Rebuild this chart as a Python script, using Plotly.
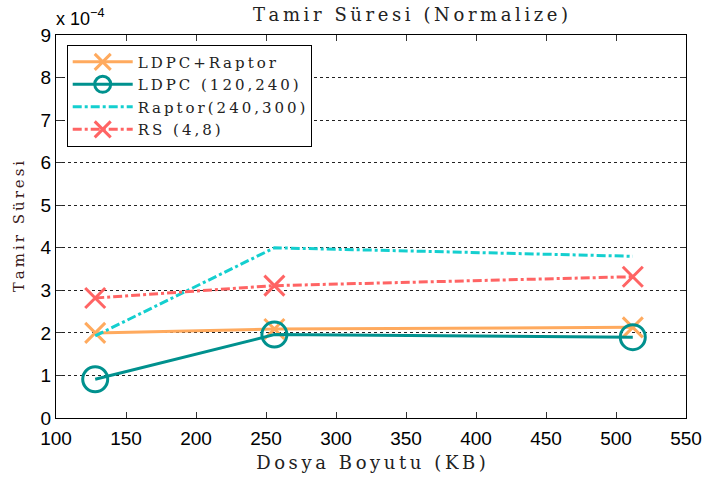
import plotly.graph_objects as go

# File sizes (KB)
sizes = [128, 256, 512]

# Normalized repair time, in units of 1e-4
ldpc_raptor = [2.00, 2.09, 2.13]
ldpc_120_240 = [0.91, 1.96, 1.90]
raptor_240_300 = [1.93, 4.00, 3.80]
rs_4_8 = [2.82, 3.11, 3.32]

names = ["LDPC+Raptor", "LDPC (120,240)", "Raptor(240,300)", "RS (4,8)"]
x_ticks = [100, 150, 200, 250, 300, 350, 400, 450, 500, 550]
y_ticks = [0, 1, 2, 3, 4, 5, 6, 7, 8, 9]

ORANGE = "#FFAA5E"
TEAL = "#00918E"
CYAN = "#14CFCF"
RED = "#FF6464"

serif = "DejaVu Serif"
sans = "Liberation Sans"


def spaced(s):
    """Loose letter spacing for the serif labels (thin space between glyphs)."""
    return "\u2009".join(s)


fig = go.Figure()

fig.add_trace(go.Scatter(
    x=sizes, y=ldpc_raptor, name=spaced(names[0]), mode="lines+markers",
    line=dict(color=ORANGE, width=3),
    marker=dict(symbol="x-thin", size=20, line=dict(color=ORANGE, width=3)),
))
fig.add_trace(go.Scatter(
    x=sizes, y=ldpc_120_240, name=spaced(names[1]), mode="lines+markers",
    line=dict(color=TEAL, width=3),
    marker=dict(symbol="circle-open", size=25, color=TEAL, line=dict(color=TEAL, width=3)),
))
fig.add_trace(go.Scatter(
    x=sizes, y=raptor_240_300, name=spaced(names[2]), mode="lines",
    line=dict(color=CYAN, width=3, dash="dashdot"),
))
fig.add_trace(go.Scatter(
    x=sizes, y=rs_4_8, name=spaced(names[3]), mode="lines+markers",
    line=dict(color=RED, width=3, dash="dashdot"),
    marker=dict(symbol="x-thin", size=20, line=dict(color=RED, width=3)),
))

fig.update_layout(
    width=714, height=486,
    margin=dict(l=56, r=21, t=35, b=68),
    plot_bgcolor="white", paper_bgcolor="white",
    title=dict(text=spaced("Tamir Süresi (Normalize)"), x=0.575, xanchor="center",
               y=0.982, yanchor="top",
               font=dict(family=serif, size=18, color="#222")),
    showlegend=True,
    legend=dict(x=0.017, y=0.975, xanchor="left", yanchor="top",
                bgcolor="white", bordercolor="black", borderwidth=1,
                font=dict(family=serif, size=15, color="#222"),
                tracegroupgap=0, itemwidth=60),
    xaxis=dict(range=[100, 550], tickvals=x_ticks, ticks="inside", ticklen=6,
               tickcolor="#333", mirror="allticks", showline=True,
               linecolor="black", linewidth=1, showgrid=False, zeroline=False,
               ticklabelstandoff=3,
               tickfont=dict(family=sans, size=19, color="black"),
               title=dict(text=spaced("Dosya Boyutu (KB)"), standoff=8,
                          font=dict(family=serif, size=18, color="#222"))),
    yaxis=dict(range=[0, 9], tickvals=y_ticks, ticks="inside", ticklen=6,
               tickcolor="#333", mirror="allticks", showline=True,
               linecolor="black", linewidth=1, showgrid=True,
               gridcolor="#222", griddash="dot", gridwidth=1, zeroline=False,
               tickfont=dict(family=sans, size=19, color="black"),
               title=dict(text=spaced("Tamir Süresi"), standoff=12,
                          font=dict(family=serif, size=15, color="#3a1a1a"))),
)

# exponent label above the y axis
fig.add_annotation(text="x 10<sup>−4</sup>", xref="paper", yref="paper",
                   x=0.0, y=1.0, xanchor="left", yanchor="bottom",
                   yshift=4, xshift=-2, showarrow=False,
                   font=dict(family=sans, size=18, color="black"))

fig.write_html("out.html")
